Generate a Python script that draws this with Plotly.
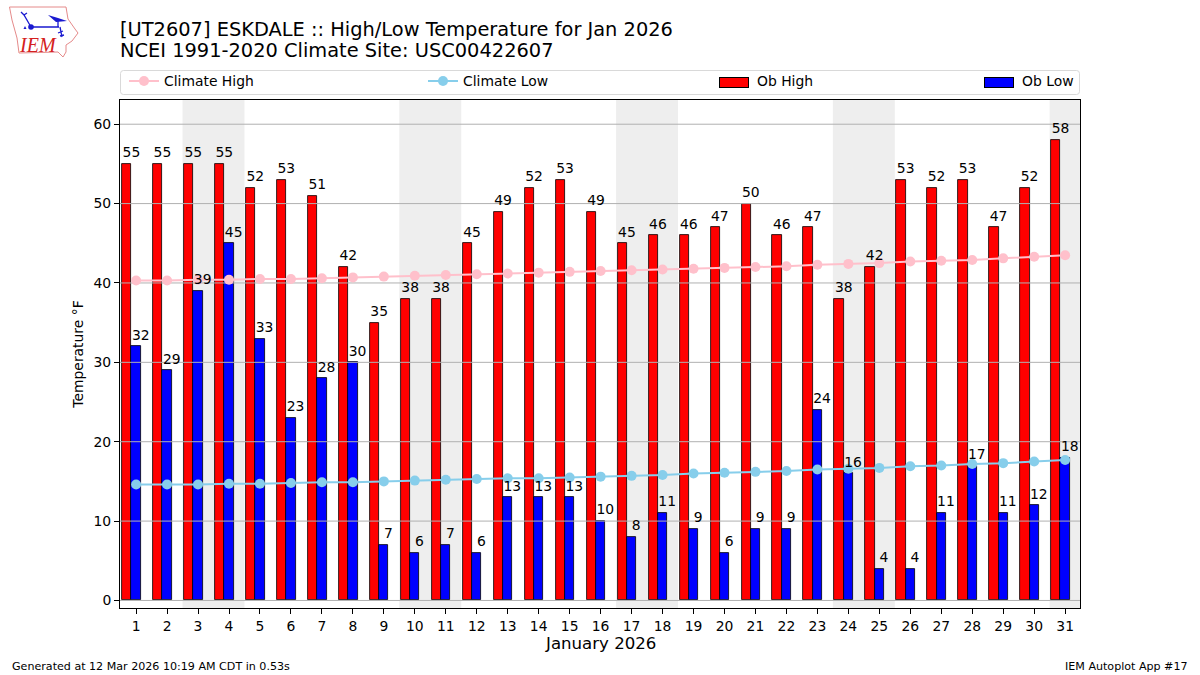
import base64
import plotly.graph_objects as go

days = list(range(1, 32))
ob_high = [55,55,55,55,52,53,51,42,35,38,38,45,49,52,53,49,45,46,46,47,50,46,47,38,42,53,52,53,47,52,58]
ob_low = [32,29,39,45,33,23,28,30,7,6,7,6,13,13,13,10,8,11,9,6,9,9,24,16,4,4,11,17,11,12,18]
clim_high = [40.3,40.3,40.4,40.4,40.5,40.5,40.6,40.7,40.8,40.9,41.0,41.1,41.2,41.3,41.4,41.5,41.6,41.7,41.8,41.9,42.0,42.1,42.3,42.4,42.5,42.7,42.8,42.9,43.1,43.3,43.5]
clim_low = [14.6,14.6,14.6,14.7,14.7,14.8,14.9,14.9,15.0,15.1,15.2,15.3,15.4,15.4,15.5,15.6,15.7,15.8,16.0,16.1,16.2,16.3,16.5,16.6,16.7,16.9,17.0,17.2,17.3,17.5,17.7]
weekend_spans = [(3,4),(10,11),(17,18),(24,25),(31,31)]
y_ticks = [0,10,20,30,40,50,60]

FONT = "DejaVu Sans"
L, R, T, B = 120, 1080, 100, 608
px = lambda v: (v - L) / (R - L)
py = lambda v: (B - v) / (B - T)

logo_svg = """<svg xmlns='http://www.w3.org/2000/svg' width='80' height='60' viewBox='0 0 80 60'>
<path d='M9.5 7 L66 7 L68 19 L75 29 L78 33 L72 41 L66 45 L66 52 L63 57 L58 52 L19 53 L17 38 L12 20 Z' fill='none' stroke='#e58a8a' stroke-width='1'/>
<path d='M31 27 H59 M31 27 L24 15 L21 12 M24 15 L27 13 M58 20 V27 M60 27 L62 37 M58 33 L63 31 M60 36 L64 35' stroke='#1a1ad0' stroke-width='1.3' fill='none'/>
<circle cx='31' cy='27' r='2.8' fill='#1a1ad0'/>
<path d='M48 15 L58 18 L67 21 L56 22 Z' fill='#1a1ad0'/>
<path d='M25 26 L26.5 29 L23.5 29 Z' fill='#1a1ad0'/>
<text x='20' y='52' font-family='Liberation Serif' font-style='italic' font-size='20' fill='#d42020'>IEM</text>
</svg>"""
logo_src = "data:image/svg+xml;base64," + base64.b64encode(logo_svg.encode()).decode()

fig = go.Figure()
fig.add_bar(x=days, y=ob_high, width=0.3, offset=-0.45, name="Ob High",
            marker=dict(color="red", line=dict(color="black", width=0.8)),
            showlegend=False, hoverinfo="skip")
fig.add_bar(x=days, y=ob_low, width=0.3, offset=-0.15, name="Ob Low",
            marker=dict(color="blue", line=dict(color="black", width=0.8)),
            showlegend=False, hoverinfo="skip")
# legend text entries for the bars; their wide swatches are drawn as boxes below
fig.add_bar(x=[None], y=[None], name="Ob High", marker=dict(color="rgba(0,0,0,0)", line_width=0), legend="legend3")
fig.add_bar(x=[None], y=[None], name="Ob Low", marker=dict(color="rgba(0,0,0,0)", line_width=0), legend="legend4")

grid_x, grid_y = [], []
for t in y_ticks:
    grid_x += [0.4, 31.6, None]
    grid_y += [t, t, None]
fig.add_scatter(x=grid_x, y=grid_y, mode="lines", line=dict(color="#b0b0b0", width=1),
                showlegend=False, hoverinfo="skip")

fig.add_scatter(x=days, y=clim_high, mode="lines+markers", name="Climate High",
                line=dict(color="pink", width=2), marker=dict(color="pink", size=10),
                legend="legend")
fig.add_scatter(x=days, y=clim_low, mode="lines+markers", name="Climate Low",
                line=dict(color="skyblue", width=2), marker=dict(color="skyblue", size=10),
                legend="legend2")

LABEL_LIFT = 0.4
lab = dict(size=13.9, family=FONT, color="black")
fig.add_scatter(x=[d - 0.15 for d in days], y=[v + LABEL_LIFT for v in ob_high], mode="text",
                text=[str(v) for v in ob_high], textposition="top center", textfont=lab,
                showlegend=False, hoverinfo="skip")
fig.add_scatter(x=[d + 0.15 for d in days], y=[v + LABEL_LIFT for v in ob_low], mode="text",
                text=[str(v) for v in ob_low], textposition="top center", textfont=lab,
                showlegend=False, hoverinfo="skip")

shapes = [dict(type="rect", xref="x", yref="paper", x0=a - 0.5, x1=b + 0.5, y0=0, y1=1,
               fillcolor="#eeeeee", line_width=0, layer="below") for a, b in weekend_spans]

def rounded(x0, y0, x1, y1, r=3):
    X0, X1, Y0, Y1 = px(x0), px(x1), py(y0), py(y1)
    rx, ry = r / (R - L), r / (B - T)
    return (f"M{X0+rx},{Y0} L{X1-rx},{Y0} Q{X1},{Y0} {X1},{Y0-ry} L{X1},{Y1+ry} Q{X1},{Y1} {X1-rx},{Y1} "
            f"L{X0+rx},{Y1} Q{X0},{Y1} {X0},{Y1+ry} L{X0},{Y0-ry} Q{X0},{Y0} {X0+rx},{Y0} Z")

shapes.append(dict(type="path", xref="paper", yref="paper", path=rounded(120.5, 70.5, 1079.5, 94.5),
                   line=dict(color="#d9d9d9", width=1), fillcolor="white", layer="above"))

def legend_at(text_x):
    return dict(x=px(text_x - 40), y=py(81.5), xanchor="left", yanchor="middle", orientation="h",
                bgcolor="rgba(0,0,0,0)", borderwidth=0, font=dict(size=13.9, family=FONT, color="black"))

def patch(cx, color):
    return dict(text=" ", xref="paper", yref="paper", x=px(cx), y=py(82), xanchor="center", yanchor="middle",
                showarrow=False, width=28, height=9, bgcolor=color, bordercolor="black", borderwidth=1, borderpad=0)

ann = [
    dict(text="NCEI 1991-2020 Climate Site: USC00422607", xref="paper", yref="paper", x=0, y=py(51), xshift=-2,
         xanchor="left", yanchor="middle", showarrow=False, font=dict(size=19.4, family=FONT, color="black")),
    dict(text="January 2026", xref="paper", yref="paper", x=0.5, y=py(643.5), xanchor="center", yanchor="middle",
         showarrow=False, font=dict(size=16.6, family=FONT, color="black")),
    dict(text="Generated at 12 Mar 2026 10:19 AM CDT in 0.53s", xref="paper", yref="paper", x=px(12), y=py(666), xshift=-2,
         xanchor="left", yanchor="middle", showarrow=False, font=dict(size=11.1, family=FONT, color="black")),
    dict(text="IEM Autoplot App #17", xref="paper", yref="paper", x=px(1188), y=py(666), xshift=2,
         xanchor="right", yanchor="middle", showarrow=False, font=dict(size=11.1, family=FONT, color="black")),
    patch(733.5, "red"), patch(998.5, "blue"),
]

fig.update_layout(
    width=1200, height=675, margin=dict(l=L, r=1200 - R, t=T, b=675 - B, autoexpand=False),
    paper_bgcolor="white", plot_bgcolor="white", barmode="overlay", bargap=0,
    font=dict(family=FONT, size=13.9, color="black"),
    title=dict(text="[UT2607] ESKDALE :: High/Low Temperature for Jan 2026", x=px(120), xref="paper", xanchor="left",
               y=1 - 29 / 675, yanchor="middle", font=dict(size=19.4, family=FONT, color="black")),
    xaxis=dict(range=[0.48, 31.48], tickmode="array", tickvals=days, ticktext=[str(d) for d in days],
               showgrid=False, zeroline=False, showline=True, mirror=True, linecolor="black", linewidth=1,
               ticks="outside", ticklen=5, tickcolor="black", tickangle=0),
    yaxis=dict(range=[-0.95, 63.05], tickmode="array", tickvals=y_ticks, showgrid=False, zeroline=False,
               showline=True, mirror=True, linecolor="black", linewidth=1, ticks="outside", ticklen=5,
               tickcolor="black", title=dict(text="Temperature °F", font=dict(size=13.9, family=FONT), standoff=6)),
    legend=legend_at(164), legend2=legend_at(463), legend3=legend_at(757), legend4=legend_at(1022),
    shapes=shapes, annotations=ann,
    images=[dict(source=logo_src, xref="paper", yref="paper", x=px(0), y=py(0), sizex=80 / 960, sizey=60 / 508,
                 xanchor="left", yanchor="top", sizing="stretch", layer="above")],
)
fig.write_html("out.html", config={"displayModeBar": False}, post_script="document.body.style.margin='0';")
